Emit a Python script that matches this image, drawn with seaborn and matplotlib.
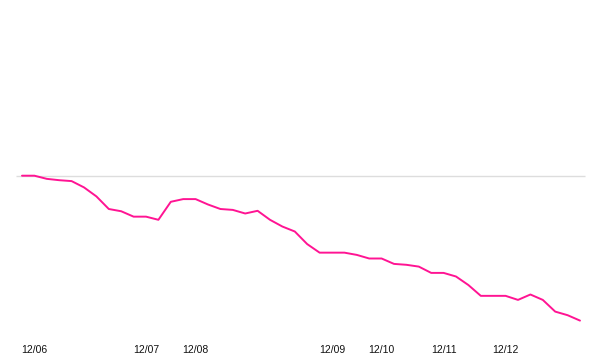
import matplotlib
matplotlib.use("Agg")
import matplotlib.pyplot as plt
import seaborn as sns
import pandas as pd

# Data (index values, baseline = 100)
values = [100.0, 100.0, 99.3, 99.0, 98.8, 97.4, 95.4, 92.6, 92.1, 90.9,
          90.9, 90.2, 94.2, 94.8, 94.8, 93.6, 92.6, 92.4, 91.6, 92.2,
          90.2, 88.7, 87.6, 84.8, 82.9, 82.9, 82.9, 82.4, 81.6, 81.6,
          80.4, 80.2, 79.8, 78.4, 78.4, 77.6, 75.7, 73.3, 73.3, 73.3,
          72.4, 73.6, 72.4, 69.8, 69.0, 67.8]
tick_positions = [1, 10, 14, 25, 29, 34, 39]
tick_labels = ["12/06", "12/07", "12/08", "12/09", "12/10", "12/11", "12/12"]
baseline = 100.0

df = pd.DataFrame({"idx": list(range(len(values))), "value": values})

sns.set_style("white")
plt.rcParams["font.family"] = ["Liberation Sans", "DejaVu Sans"]

fig = plt.figure(figsize=(6, 3.6), dpi=100)
ax = fig.add_axes([0, 20 / 360, 1, 340 / 360])

# reference line at the baseline
ax.hlines(baseline, -0.48, 45.4, color="#dddddd", linewidth=1.0, zorder=1)

sns.lineplot(data=df, x="idx", y="value", ax=ax, color="#ff1493",
             linewidth=1.4, zorder=2)

ax.set_xlim(-22 / 12.4, 578 / 12.4)
ax.set_ylim(100 - (340 - 175.7) / 4.5, 100 + 175.7 / 4.5)

ax.set_xticks(tick_positions)
ax.set_xticklabels(tick_labels, fontsize=7.5, color="#111111")
ax.tick_params(axis="x", length=0, pad=3.5)
ax.set_yticks([])
ax.set_xlabel("")
ax.set_ylabel("")
for s in ax.spines.values():
    s.set_visible(False)

fig.savefig("out.png", dpi=100, facecolor="white")
